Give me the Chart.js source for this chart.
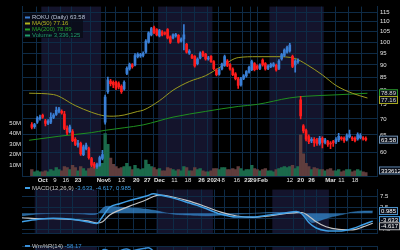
<!DOCTYPE html>
<html>
<head>
<meta charset="utf-8">
<script src="https://cdn.jsdelivr.net/npm/chart.js@4.4.1/dist/chart.umd.min.js"></script>
<style>
  html, body { margin: 0; padding: 0; background: #000; width: 400px; height: 250px; overflow: hidden; }
  .pane { position: absolute; left: 0; width: 400px; }
</style>
</head>
<body>
<div class="pane" style="top:0;height:183px"><canvas id="price"></canvas></div>
<div class="pane" style="top:183px;height:57px"><canvas id="macd"></canvas></div>
<div class="pane" style="top:240px;height:60px"><canvas id="wpr"></canvas></div>
<script>
// --- data (x = trading day index, 0 = Oct 2 2023)
const firstDay = -4;
const open = [68.2,67.5,69.0,70.1,71.2,69.4,68.6,69.0,70.5,71.5,72.5,72.5,71.6,67.0,66.0,66.0,63.7,62.0,62.5,59.3,61.0,61.0,58.2,56.8,56.0,56.5,58.3,69.0,79.5,83.5,83.0,83.0,82.5,81.5,80.5,86.5,88.3,90.0,90.0,93.5,93.8,94.0,95.5,100.0,103.5,107.0,106.0,103.0,105.0,104.5,106.0,102.5,102.0,103.0,103.2,100.5,101.5,99.0,95.0,94.0,93.6,90.5,93.0,95.5,94.6,92.5,93.6,91.4,87.9,86.2,88.3,89.8,91.6,90.0,88.3,86.3,84.4,82.0,84.5,85.5,87.0,88.0,90.5,89.5,88.5,92.0,90.5,88.5,89.3,89.6,89.8,88.5,92.5,94.0,95.5,96.0,93.6,90.0,91.3,76.5,67.8,66.3,64.5,63.2,63.7,63.5,62.5,64.0,62.8,63.0,62.6,63.0,62.9,63.5,64.0,64.0,63.6,64.5,64.0,64.0,63.8,64.2,64.0,64.0];
const close = [67.3,68.2,70.3,70.6,70.6,68.6,69.3,70.5,71.3,72.9,73.4,72.0,67.0,65.6,67.5,63.3,62.2,62.6,59.5,61.5,62.0,58.5,56.5,56.2,56.6,58.5,59.3,77.5,84.0,82.5,82.0,80.8,81.2,79.5,83.0,88.6,90.2,89.3,94.0,94.5,94.4,95.0,100.5,104.5,106.5,104.5,103.5,105.5,103.5,104.0,102.0,100.0,103.5,103.6,100.0,101.5,103.5,95.5,96.0,93.0,89.6,92.5,95.0,94.0,92.5,93.0,91.4,88.4,86.0,88.0,90.3,93.5,89.8,88.3,86.0,84.4,81.8,84.4,85.5,87.2,89.0,91.4,88.0,88.5,89.8,90.0,88.3,89.5,90.2,90.4,87.9,91.6,94.4,96.4,97.5,98.7,89.4,91.6,91.8,71.0,66.2,63.7,63.0,63.7,62.7,62.5,64.0,62.8,63.5,62.2,62.3,62.6,63.6,64.6,63.9,63.3,64.8,65.1,63.8,63.3,65.1,64.8,63.8,63.58];
const high = [68.8,68.6,70.8,71.3,71.6,69.9,69.8,72.0,71.8,74.0,73.9,73.0,72.5,67.8,68.0,66.6,64.2,63.4,62.9,62.0,62.6,61.4,58.6,57.2,57.0,58.9,60.5,78.2,85.0,84.2,83.6,83.5,83.2,82.0,83.6,89.2,90.8,90.6,94.8,95.2,95.0,95.6,101.2,105.0,107.2,107.8,106.5,106.2,105.6,105.0,106.6,103.0,104.0,104.2,103.6,102.0,108.5,99.5,96.6,94.5,94.0,93.0,95.6,96.0,95.0,93.6,94.0,91.8,88.4,88.5,90.8,94.2,92.2,90.5,88.8,86.8,84.9,84.9,86.0,87.7,89.5,92.0,91.0,90.0,90.4,92.6,91.0,90.0,90.8,91.0,90.3,92.2,95.0,97.0,98.2,99.5,94.2,92.2,92.6,77.8,68.2,66.8,65.0,64.2,64.2,64.0,64.6,64.4,64.0,63.4,63.0,63.4,64.2,65.5,64.5,64.4,65.3,66.5,64.5,64.4,65.6,65.4,64.5,64.4];
const low = [66.8,67.0,68.6,69.6,70.2,67.8,68.2,68.5,70.1,71.2,72.0,71.6,66.6,65.1,65.6,63.0,61.8,61.4,59.1,59.0,60.6,58.1,56.1,55.7,55.6,56.2,57.9,68.3,78.8,81.6,81.0,80.2,80.5,78.8,80.0,86.0,87.8,88.6,89.6,93.0,93.2,93.4,95.0,99.5,103.0,104.0,103.0,102.5,103.0,103.4,101.6,99.4,101.5,102.4,99.5,100.0,96.5,95.0,94.5,92.6,89.0,90.0,92.5,93.5,92.0,92.0,91.0,88.0,85.5,85.8,87.9,89.4,89.3,87.8,85.6,83.9,80.7,81.5,84.0,85.0,86.6,87.6,87.5,88.0,88.0,89.5,87.8,88.0,88.8,89.2,87.4,88.0,92.0,93.5,95.0,95.5,88.8,87.0,90.6,70.0,65.6,63.2,62.4,62.7,61.6,61.9,62.0,61.2,62.3,61.6,61.0,61.6,62.4,63.0,63.4,62.8,63.2,64.1,63.3,62.9,63.4,63.8,63.4,63.2];
const volumeM = [6,4,5,4,4,5,4,6,5,8,6,5,9,8,6,10,8,5,9,7,5,7,8,9,7,10,12,40,30,17,11,9,7,8,9,12,9,6,10,7,6,7,15,11,9,8,6,7,5,5,8,7,6,5,6,5,9,8,5,5,8,6,7,5,4,4,5,7,7,6,8,8,6,6,7,6,9,7,5,6,6,10,7,6,5,6,7,5,5,4,6,7,8,9,8,9,10,7,9,39,21,12,9,6,8,7,6,6,5,6,7,5,5,6,4,5,6,6,4,5,6,5,4,3.336];

// sparse readings [day, value]
const ma50 = [[-5,78.9],[4,78.4],[12,74.5],[18,72.2],[23,71.0],[26,70.9],[30,71.3],[35,72.5],[37,72.9],[43,76.2],[48,80.0],[54,83.3],[60,85.6],[66,89.5],[72,93.1],[79,93.5],[86,93.5],[93,92.7],[97,90.3],[103,85.9],[108,81.8],[114,78.9],[119.6,77.16]];
const ma200 = [[-5,63.4],[6,64.6],[18,65.7],[23,66.4],[30,67.2],[37,68.1],[48,70.6],[60,72.5],[72,74.2],[79,74.9],[91,77.2],[97,77.8],[108,78.3],[119.6,78.89]];
const macdLine = [[-5,-3.9],[1.5,-2.7],[6,-2.3],[12,-2.7],[18,-3.9],[21.5,-4.7],[23.5,-1.5],[26,2.7],[29.5,4.3],[34,6.1],[39,7.8],[41.5,8.8],[43.5,8.4],[47.5,7.2],[53.5,4.9],[59,2.6],[65,-0.4],[71,-1.8],[76.5,-1.8],[82.5,-0.9],[88.5,0.2],[92,0.8],[94,-0.4],[96.5,-4.4],[99,-6.8],[102.5,-8.0],[107,-8.2],[112,-7.0],[115.5,-5.3],[119,-3.633]];
const signalLine = [[-5,-2.1],[1.5,-2.5],[6,-2.5],[12,-2.9],[18,-3.5],[21.5,-4.5],[23.5,-3.9],[26,-0.8],[29.5,1.4],[34,3.7],[39,6.1],[41.5,7.6],[43.5,8.2],[47.5,7.6],[53.5,5.7],[59,3.4],[65,0.6],[71,-1.3],[76.5,-1.9],[82.5,-1.3],[88.5,-0.1],[92,0.2],[94,0.3],[96.5,-1.5],[99,-3.9],[102.5,-6.2],[107,-7.4],[112,-7.6],[115.5,-6.3],[119,-4.617]];
const histo = [[-5,-1.2],[1.5,-0.3],[8.5,-0.1],[15.5,-0.3],[19,-0.6],[21.5,-0.4],[22.5,0.8],[24.5,3.0],[28,2.9],[31.5,2.5],[36.5,2.1],[42,1.2],[45.5,0.2],[49,-0.5],[54.5,-0.9],[59.5,-1.2],[63,-1.1],[68.5,-0.6],[75.5,-0.2],[82.5,0.3],[89.5,0.3],[92,0.7],[94,0.0],[96,-2.8],[97.5,-4.3],[100,-3.5],[103.5,-2.0],[109,-0.4],[111.5,0.4],[115,0.9],[119,0.985]];
const wpr = [[-5,-60],[5,-30],[10,-70],[19,-95],[22,-80],[23,-12],[24,-6],[26,-10],[28,-20],[30,-8],[32,-5],[34,-9],[36,-6],[38,-4],[40,-3],[42,-12],[45,-25],[50,-40],[56,-70],[64,-85],[72,-90],[77,-40],[86,-45],[91,-15],[95,-95],[100,-95],[108,-80],[113,-45],[119,-58.17]];

const tickDays = [0,4.5,8.5,13,22,24.5,29,34.5,38.5,43,48.5,53.5,58.5,63,66.5,71.5,75.5,77.5,81,91,95,99,106,110,115];
const tickText = ['Oct','9','16','23','Nov','6','13','20','27','Dec','11','18','26','2024','8','16','22','29','Feb','12','20','26','Mar','11','18'];
const priceTicks = [60,65,70,75,80,85,90,95,100,105,110,115];
const volTicks = [10e6,20e6,30e6,40e6,50e6];
const macdTicks = [-7.5,-5,-2.5,0,2.5,5,7.5];
const monthBands = [[-0.5,21.5],[42.5,62.5],[83.5,103.5]];

// --- style
const FONT = '"Liberation Sans", Arial, sans-serif';
const GRID = '#0e2b46';
const UP = '#3a7fd5', DOWN = '#ff1c1c';
const X_MIN = -5, X_MAX = 120.5;

const pts = arr => arr.map(([x, y]) => ({ x, y }));
const days = open.map((_, k) => firstDay + k);
const isUp = days.map((_, k) => close[k] >= open[k]);

function xScale(showLabels) {
  return {
    type: 'linear', min: X_MIN, max: X_MAX, position: 'bottom',
    afterBuildTicks: s => { s.ticks = tickDays.map(v => ({ value: v })); },
    afterFit: s => { s.height = showLabels ? 7 : 0; },
    grid: { color: GRID, drawTicks: false },
    border: { color: GRID },
    ticks: {
      display: showLabels, autoSkip: false, maxRotation: 0, padding: 1, color: '#e0e0e0',
      callback: (v, i) => tickText[i],
      font: c => ({ family: FONT, size: 6, weight: /^[A-Z2]/.test(tickText[c.index] || '') ? 'bold' : 'normal' })
    }
  };
}

const bandPlugin = {
  id: 'bands',
  beforeDraw(chart) {
    const { ctx, chartArea: a, scales: { x } } = chart;
    ctx.save();
    ctx.fillStyle = '#000';
    ctx.fillRect(0, 0, chart.width, chart.height);
    ctx.fillStyle = '#14142c';
    monthBands.forEach(([s, e]) => {
      const x0 = x.getPixelForValue(s), x1 = x.getPixelForValue(e);
      ctx.fillRect(x0, a.top, x1 - x0, a.bottom - a.top);
    });
    ctx.restore();
  }
};

function valueBox(ctx, x, y, text, border, color) {
  ctx.font = '6px ' + FONT;
  const w = ctx.measureText(text).width + 4;
  ctx.fillStyle = '#0a0e18';
  ctx.fillRect(x, y - 4, w, 8);
  ctx.strokeStyle = border; ctx.lineWidth = 1;
  ctx.strokeRect(x + 0.5, y - 3.5, w - 1, 7);
  ctx.fillStyle = color; ctx.textBaseline = 'middle'; ctx.textAlign = 'left';
  ctx.fillText(text, x + 2, y + 0.5);
}

function legendRow(ctx, x, y, icon, parts) {
  ctx.fillStyle = icon;
  ctx.fillRect(x, y - 1, 5, 2);
  let cx = x + 7;
  ctx.font = '6px ' + FONT; ctx.textBaseline = 'middle'; ctx.textAlign = 'left';
  parts.forEach(([t, c]) => { ctx.fillStyle = c; ctx.fillText(t, cx, y); cx += ctx.measureText(t).width; });
}

// --- price + volume pane
new Chart(document.getElementById('price'), {
  type: 'bar',
  data: {
    datasets: [
      { type: 'line', label: 'MA(50)', data: pts(ma50), yAxisID: 'y', borderColor: '#9a9a1e', borderWidth: 1, pointRadius: 0, cubicInterpolationMode: 'monotone', order: 3 },
      { type: 'line', label: 'MA(200)', data: pts(ma200), yAxisID: 'y', borderColor: '#1f8f1f', borderWidth: 1, pointRadius: 0, cubicInterpolationMode: 'monotone', order: 3 },
      { label: 'wick', data: days.map((d, k) => ({ x: d, y: [low[k], high[k]] })), yAxisID: 'y', grouped: false, barThickness: 1,
        backgroundColor: isUp.map(u => u ? UP : DOWN), order: 2 },
      { label: 'body', data: days.map((d, k) => ({ x: d, y: [open[k], close[k]] })), yAxisID: 'y', grouped: false, barThickness: 2,
        backgroundColor: isUp.map(u => u ? UP : DOWN), minBarLength: 1, order: 1 },
      { label: 'Volume', data: days.map((d, k) => ({ x: d, y: volumeM[k] * 1e6 })), yAxisID: 'v', grouped: false,
        barPercentage: 1, categoryPercentage: 1, backgroundColor: isUp.map(u => u ? '#1b6a4b' : '#5f3d3d'), order: 10 }
    ]
  },
  options: {
    responsive: true, maintainAspectRatio: false, animation: false,
    layout: { padding: 0 },
    plugins: { legend: { display: false }, tooltip: { enabled: false } },
    scales: {
      x: xScale(true),
      y: {
        type: 'logarithmic', position: 'right', min: 53.7, max: 118,
        afterBuildTicks: s => { s.ticks = priceTicks.map(v => ({ value: v })); },
        afterFit: s => { s.width = 23; },
        grid: { color: GRID, drawTicks: false }, border: { color: GRID },
        ticks: { color: '#e0e0e0', padding: 3, font: { family: FONT, size: 6 }, callback: v => String(v) }
      },
      v: {
        type: 'linear', position: 'left', min: 0, max: 160e6,
        afterBuildTicks: s => { s.ticks = volTicks.map(v => ({ value: v })); },
        afterFit: s => { s.width = 22; },
        grid: { display: false, drawTicks: false }, border: { color: GRID },
        ticks: { color: '#e0e0e0', padding: 1, font: { family: FONT, size: 6 }, callback: v => (v / 1e6) + 'M' }
      }
    }
  },
  plugins: [bandPlugin, {
    id: 'labels',
    afterDraw(chart) {
      const { ctx, chartArea: a, scales: { y, v } } = chart;
      ctx.save();
      ctx.fillStyle = 'rgba(8,12,24,0.85)';
      ctx.fillRect(a.left + 1, 13, 60, 25);
      legendRow(ctx, a.left + 3, 17.5, UP, [['ROKU (Daily) 63.58', '#b9c3d6']]);
      legendRow(ctx, a.left + 3, 23.5, '#b4b41e', [['MA(50) 77.16', '#b4b41e']]);
      legendRow(ctx, a.left + 3, 29.5, '#28a028', [['MA(200) 78.89', '#28a028']]);
      legendRow(ctx, a.left + 3, 35.5, '#1f9a6a', [['Volume 3,336,125', '#1f9a6a']]);
      const bx = a.right + 2;
      valueBox(ctx, bx, y.getPixelForValue(78.89), '78.89', '#2a9a2a', '#d8d8d8');
      valueBox(ctx, bx, y.getPixelForValue(77.16) + 2, '77.16', '#a8a820', '#d8d8d8');
      valueBox(ctx, bx, y.getPixelForValue(63.58), '63.58', '#7090b0', '#ffffff');
      valueBox(ctx, bx, v.getPixelForValue(3336125) - 2, '3336125', '#5a80a8', '#ffffff');
      ctx.restore();
    }
  }]
});

// --- MACD pane
new Chart(document.getElementById('macd'), {
  type: 'line',
  data: {
    datasets: [
      { label: 'hist', data: pts(histo), borderColor: 'rgba(60,145,215,0.9)', borderWidth: 0.5, backgroundColor: 'rgba(52,135,205,0.75)', fill: 'origin', pointRadius: 0, tension: 0.3, order: 3 },
      { label: 'signal', data: pts(signalLine), borderColor: '#c4c4c4', borderWidth: 1.2, pointRadius: 0, cubicInterpolationMode: 'monotone', order: 2 },
      { label: 'MACD', data: pts(macdLine), borderColor: '#3f9fe6', borderWidth: 1.5, pointRadius: 0, cubicInterpolationMode: 'monotone', order: 1 }
    ]
  },
  options: {
    responsive: true, maintainAspectRatio: false, animation: false,
    layout: { padding: { left: 22 } },
    plugins: { legend: { display: false }, tooltip: { enabled: false } },
    scales: {
      x: xScale(false),
      y: {
        position: 'right', min: -9.25, max: 10.75,
        afterBuildTicks: s => { s.ticks = macdTicks.map(v => ({ value: v })); },
        afterFit: s => { s.width = 23; },
        grid: { color: GRID, drawTicks: false }, border: { color: GRID },
        ticks: { color: '#e0e0e0', padding: 3, font: { family: FONT, size: 6 }, callback: v => v.toFixed(1) }
      }
    }
  },
  plugins: [bandPlugin, {
    id: 'macdLabels',
    afterDraw(chart) {
      const { ctx, chartArea: a, scales: { y } } = chart;
      ctx.save();
      legendRow(ctx, a.left + 3, 5, '#3f9fe6', [['MACD(12,26,9) ', '#c8c8c8'], ['-3.633, -4.617, 0.985', '#3f9fe6']]);
      const bx = a.right + 2;
      valueBox(ctx, bx, y.getPixelForValue(0.985), '0.985', '#4a90c8', '#ffffff');
      valueBox(ctx, bx, y.getPixelForValue(-3.633) - 1, '-3.633', '#3f9fe6', '#ffffff');
      valueBox(ctx, bx, y.getPixelForValue(-4.617) + 3, '-4.617', '#b0b0b0', '#ffffff');
      ctx.restore();
    }
  }]
});

// --- Williams %R pane (mostly below the fold)
new Chart(document.getElementById('wpr'), {
  type: 'line',
  data: { datasets: [{ label: 'Wm%R', data: pts(wpr), borderColor: '#3a8fd8', borderWidth: 1.5, pointRadius: 0, tension: 0.3 }] },
  options: {
    responsive: true, maintainAspectRatio: false, animation: false,
    layout: { padding: { left: 22, top: 2 } },
    plugins: { legend: { display: false }, tooltip: { enabled: false } },
    scales: {
      x: xScale(false),
      y: {
        position: 'right', min: -100, max: 0,
        afterBuildTicks: s => { s.ticks = [-80, -50, -20, 0].map(v => ({ value: v })); },
        afterFit: s => { s.width = 23; },
        grid: { color: GRID, drawTicks: false }, border: { color: GRID },
        ticks: { color: '#e0e0e0', padding: 3, font: { family: FONT, size: 6 }, callback: v => v === 0 ? '' : String(v) }
      }
    }
  },
  plugins: [bandPlugin, {
    id: 'wprLabel',
    afterDraw(chart) {
      const { ctx, chartArea: a } = chart;
      ctx.save();
      legendRow(ctx, a.left + 3, 6, '#3a8fd8', [['Wm%R(14) ', '#c8c8c8'], ['-58.17', '#3a8fd8']]);
      ctx.restore();
    }
  }]
});
</script>
</body>
</html>
